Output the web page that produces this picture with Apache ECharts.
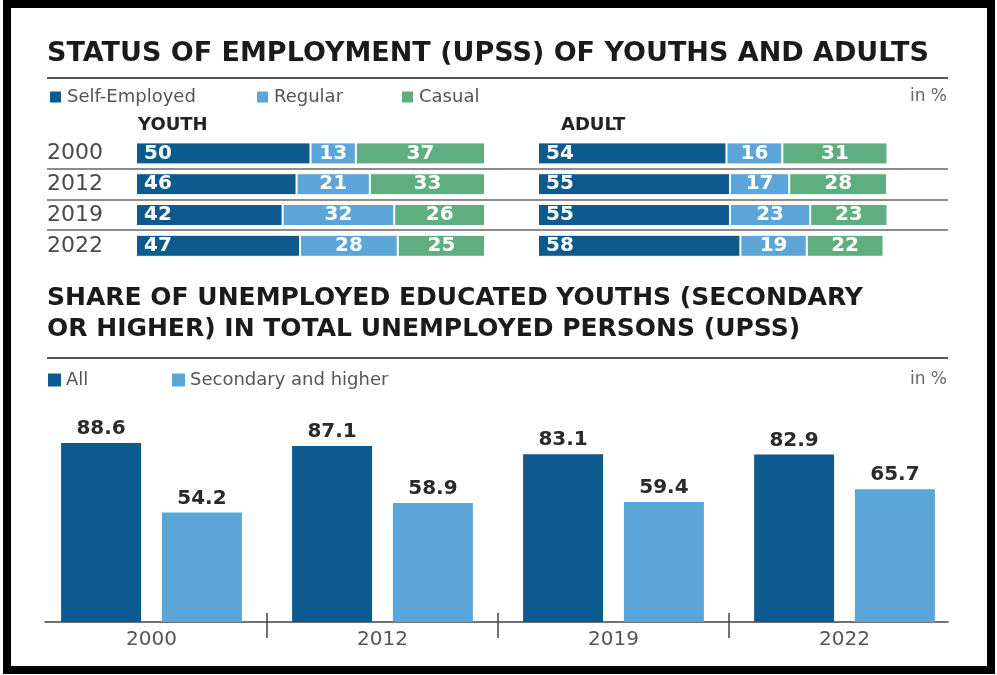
<!DOCTYPE html>
<html>
<head>
<meta charset="utf-8">
<script src="https://cdn.jsdelivr.net/npm/echarts@6/dist/echarts.min.js"></script>
<style>
  html, body { margin: 0; padding: 0; background: #fff; }
  #chart { width: 997px; height: 675px; }
</style>
</head>
<body>
<div id="chart"></div>
<script>
// ---- data ----
var years = ['2000', '2012', '2019', '2022'];
var youthSelf = [50, 46, 42, 47];
var youthRegular = [13, 21, 32, 28];
var youthCasual = [37, 33, 26, 25];
var adultSelf = [54, 55, 55, 58];
var adultRegular = [16, 17, 23, 19];
var adultCasual = [31, 28, 23, 22];
var unempAll = [88.6, 87.1, 83.1, 82.9];
var unempSecondary = [54.2, 58.9, 59.4, 65.7];

var DARK = '#0c5a8e', LIGHT = '#5ba5d8', GREEN = '#5fae80';
var FONT = 'DejaVu Sans';

var chart = echarts.init(document.getElementById('chart'));

// layout of the stacked rows
var rowTop = 138, rowH = 30.8;

function stackSeries(name, data, color, stack, idx, first) {
    return {
        name: name,
        type: 'bar',
        stack: stack,
        xAxisIndex: idx,
        yAxisIndex: idx,
        barWidth: 22,
        data: data,
        itemStyle: { color: color, borderColor: '#fff', borderWidth: 1 },
        label: {
            show: true,
            position: first ? 'insideLeft' : 'inside',
            distance: 8,
            color: '#fff',
            fontFamily: FONT,
            fontWeight: 'bold',
            fontSize: 20
        }
    };
}

function legendItem(name, left, top) {
    return {
        data: [name],
        left: left,
        top: top,
        padding: 0,
        icon: 'rect',
        itemWidth: 13,
        itemHeight: 13,
        selectedMode: false,
        textStyle: { color: '#555', fontFamily: FONT, fontSize: 18 }
    };
}

// rules, titles, row separators
var graphics = [
    { type: 'rect', shape: { x: 7, y: 4, width: 984, height: 666 },
      style: { fill: null, stroke: '#000', lineWidth: 8 }, z: 100 },
    { type: 'text', style: { x: 47, y: 54, text: 'STATUS OF EMPLOYMENT (UPSS) OF YOUTHS AND ADULTS',
      font: 'bold 27px "DejaVu Sans"', fill: '#1b1b1b', verticalAlign: 'middle' } },
    { type: 'line', shape: { x1: 47, y1: 78, x2: 948, y2: 78 }, style: { stroke: '#555', lineWidth: 2 } },
    { type: 'text', style: { x: 947, y: 97, text: 'in %', font: '17px "DejaVu Sans"', fill: '#666',
      align: 'right', verticalAlign: 'middle' } },
    { type: 'text', style: { x: 138, y: 125, text: 'YOUTH', font: 'bold 18px "DejaVu Sans"', fill: '#222',
      verticalAlign: 'middle' } },
    { type: 'text', style: { x: 561, y: 125, text: 'ADULT', font: 'bold 18px "DejaVu Sans"', fill: '#222',
      verticalAlign: 'middle' } },
    { type: 'text', style: { x: 47, y: 298, text: 'SHARE OF UNEMPLOYED EDUCATED YOUTHS (SECONDARY',
      font: 'bold 25px "DejaVu Sans"', fill: '#1b1b1b', verticalAlign: 'middle' } },
    { type: 'text', style: { x: 47, y: 329, text: 'OR HIGHER) IN TOTAL UNEMPLOYED PERSONS (UPSS)',
      font: 'bold 25px "DejaVu Sans"', fill: '#1b1b1b', verticalAlign: 'middle' } },
    { type: 'line', shape: { x1: 47, y1: 358, x2: 948, y2: 358 }, style: { stroke: '#555', lineWidth: 2 } },
    { type: 'text', style: { x: 947, y: 380, text: 'in %', font: '17px "DejaVu Sans"', fill: '#666',
      align: 'right', verticalAlign: 'middle' } }
];
for (var i = 1; i < years.length; i++) {
    var yy = Math.round(rowTop + rowH * i);
    graphics.push({ type: 'line', shape: { x1: 47, y1: yy, x2: 948, y2: yy },
        style: { stroke: '#666', lineWidth: 1.5 } });
}

var option = {
    backgroundColor: '#fff',
    animation: false,
    graphic: graphics,
    legend: [
        legendItem('Self-Employed', 48, 88),
        legendItem('Regular', 255, 88),
        legendItem('Casual', 400, 88),
        legendItem('All', 48, 371),
        legendItem('Secondary and higher', 172, 371)
    ],
    grid: [
        { left: 136, top: rowTop, width: 349, height: rowH * 4 },
        { left: 538, top: rowTop, width: 349, height: rowH * 4 },
        { left: 36, top: 420, width: 924, height: 202 },
        { left: 45, top: 420, width: 903, height: 202 }
    ],
    xAxis: [
        { type: 'value', gridIndex: 0, min: 0, max: 100, show: false },
        { type: 'value', gridIndex: 1, min: 0, max: 100, show: false },
        {
            type: 'category', gridIndex: 2, data: years,
            axisLine: { show: false },
            axisTick: { show: false },
            axisLabel: { color: '#555', fontFamily: FONT, fontSize: 20, margin: 8 }
        },
        {
            // divider ticks between the year groups, crossing the base line
            type: 'value', gridIndex: 2, min: 0, max: 4, position: 'bottom', offset: -9,
            axisLine: { show: false },
            splitLine: { show: false },
            axisTick: { show: true, length: 25, customValues: [1, 2, 3],
                lineStyle: { color: '#444', width: 1.5 } },
            axisLabel: { show: false }
        },
        {
            // base line
            type: 'value', gridIndex: 3, min: 0, max: 1, position: 'bottom',
            axisLine: { show: true, lineStyle: { color: '#444', width: 1.5 } },
            splitLine: { show: false },
            axisTick: { show: false },
            axisLabel: { show: false }
        }
    ],
    yAxis: [
        {
            type: 'category', gridIndex: 0, data: years, inverse: true,
            axisLine: { show: false }, axisTick: { show: false },
            axisLabel: { align: 'left', margin: 89, color: '#4a4a4a', fontFamily: FONT, fontSize: 22 }
        },
        { type: 'category', gridIndex: 1, data: years, inverse: true, show: false },
        { type: 'value', gridIndex: 2, min: 0, max: 100, show: false },
        { type: 'value', gridIndex: 3, min: 0, max: 1, show: false }
    ],
    series: [
        stackSeries('Self-Employed', youthSelf, DARK, 'youth', 0, true),
        stackSeries('Regular', youthRegular, LIGHT, 'youth', 0, false),
        stackSeries('Casual', youthCasual, GREEN, 'youth', 0, false),
        stackSeries('Self-Employed', adultSelf, DARK, 'adult', 1, true),
        stackSeries('Regular', adultRegular, LIGHT, 'adult', 1, false),
        stackSeries('Casual', adultCasual, GREEN, 'adult', 1, false),
        {
            name: 'All', type: 'bar', xAxisIndex: 2, yAxisIndex: 2,
            barWidth: 80, barGap: '26%', data: unempAll,
            itemStyle: { color: DARK },
            label: { show: true, position: 'top', distance: 4, color: '#2a2a2a',
                fontFamily: FONT, fontWeight: 'bold', fontSize: 20 }
        },
        {
            name: 'Secondary and higher', type: 'bar', xAxisIndex: 2, yAxisIndex: 2,
            barWidth: 80, barGap: '26%', data: unempSecondary,
            itemStyle: { color: LIGHT },
            label: { show: true, position: 'top', distance: 4, color: '#2a2a2a',
                fontFamily: FONT, fontWeight: 'bold', fontSize: 20 }
        }
    ]
};

chart.setOption(option);

window.addEventListener('resize', function () {
    chart.resize();
});
</script>
</body>
</html>
